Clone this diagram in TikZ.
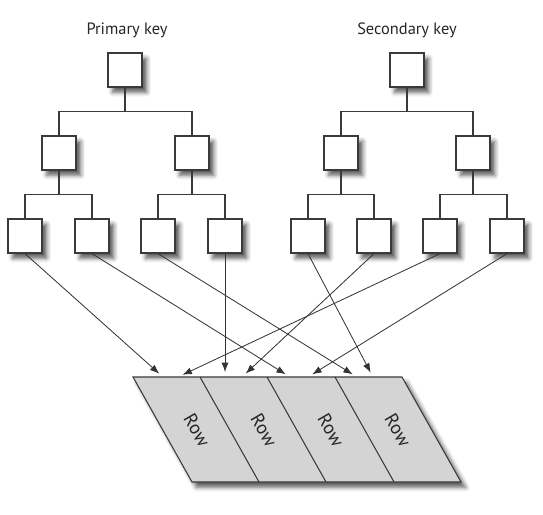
\documentclass[tikz,border=0pt]{standalone}
\usepackage{fontspec}
\setmainfont{PT Sans}
\usetikzlibrary{arrows.meta,shadows.blur}

\definecolor{boxline}{HTML}{3A3A3A}
\definecolor{rowfill}{HTML}{D4D4D4}

\tikzset{
  softshadow/.style={blur shadow={shadow xshift=1.4mm, shadow yshift=-1.6mm, shadow blur radius=1.3mm, shadow opacity=65}},
  keybox/.style={rectangle, draw=boxline, line width=1.1pt, fill=white, minimum size=1.02cm, inner sep=0pt, softshadow},
  treeline/.style={draw=boxline, line width=0.9pt},
  keyarrow/.style={-{Latex[length=2.8mm,width=2.1mm]}, draw=black!80, line width=0.7pt, shorten >=1.5mm},
  keylabel/.style={font=\fontsize{14}{16}\selectfont, text=black!85},
  rowlabel/.style={font=\fontsize{16}{18}\selectfont, text=black!85, rotate=-60, inner sep=0pt},
}

\begin{document}
\begin{tikzpicture}[x=0.03cm, y=-0.03cm]
    \useasboundingbox (0,0) rectangle (543,515);

    % titles
    \node [keylabel] (ptitle) at (127,30) {Primary key};
    \node [keylabel] (stitle) at (407,30) {Secondary key};

    % primary key tree
    \node [keybox] (P)  at (125,70)  {};
    \node [keybox] (PL) at (59,153)  {};
    \node [keybox] (PR) at (192,153) {};
    \node [keybox] (P1) at (25,236)  {};
    \node [keybox] (P2) at (92,236)  {};
    \node [keybox] (P3) at (158,236) {};
    \node [keybox] (P4) at (225,236) {};

    % secondary key tree
    \node [keybox] (S)  at (407,70)  {};
    \node [keybox] (SL) at (341,153) {};
    \node [keybox] (SR) at (473,153) {};
    \node [keybox] (S1) at (308,236) {};
    \node [keybox] (S2) at (374,236) {};
    \node [keybox] (S3) at (440,236) {};
    \node [keybox] (S4) at (507,236) {};

    \draw[treeline] (P.south) -- ++(0,24) -| (PL.north);
    \draw[treeline] (P.south) -- ++(0,24) -| (PR.north);
    \draw[treeline] (PL.south) -- ++(0,24) -| (P1.north);
    \draw[treeline] (PL.south) -- ++(0,24) -| (P2.north);
    \draw[treeline] (PR.south) -- ++(0,24) -| (P3.north);
    \draw[treeline] (PR.south) -- ++(0,24) -| (P4.north);

    \draw[treeline] (S.south) -- ++(0,24) -| (SL.north);
    \draw[treeline] (S.south) -- ++(0,24) -| (SR.north);
    \draw[treeline] (SL.south) -- ++(0,24) -| (S1.north);
    \draw[treeline] (SL.south) -- ++(0,24) -| (S2.north);
    \draw[treeline] (SR.south) -- ++(0,24) -| (S3.north);
    \draw[treeline] (SR.south) -- ++(0,24) -| (S4.north);

    % rows
    \draw[draw=boxline, line width=0.9pt, fill=rowfill, softshadow] (133,377) -- (402,377) -- (461,482) -- (192,482) -- cycle;
    \draw[treeline] (200,377) -- (259,482);
    \draw[treeline] (267,377) -- (326,482);
    \draw[treeline] (335,377) -- (394,482);

    \node [rowlabel] (row1) at (197,430) {Row};
    \node [rowlabel] (row2) at (264,430) {Row};
    \node [rowlabel] (row3) at (331,430) {Row};
    \node [rowlabel] (row4) at (398,430) {Row};

    \coordinate (r1p) at (163,377);
    \coordinate (r1s) at (178,377);
    \coordinate (r2p) at (225,377);
    \coordinate (r2s) at (242,377);
    \coordinate (r3p) at (290,377);
    \coordinate (r3s) at (308,377);
    \coordinate (r4p) at (357,377);
    \coordinate (r4s) at (373,377);

    \draw[keyarrow] (P1.south) -- (r1p);
    \draw[keyarrow] (P4.south) -- (r2p);
    \draw[keyarrow] (P2.south) -- (r3p);
    \draw[keyarrow] (P3.south) -- (r4p);

    \draw[keyarrow] (S3.south) -- (r1s);
    \draw[keyarrow] (S2.south) -- (r2s);
    \draw[keyarrow] (S4.south) -- (r3s);
    \draw[keyarrow] (S1.south) -- (r4s);

\end{tikzpicture}
\end{document}
